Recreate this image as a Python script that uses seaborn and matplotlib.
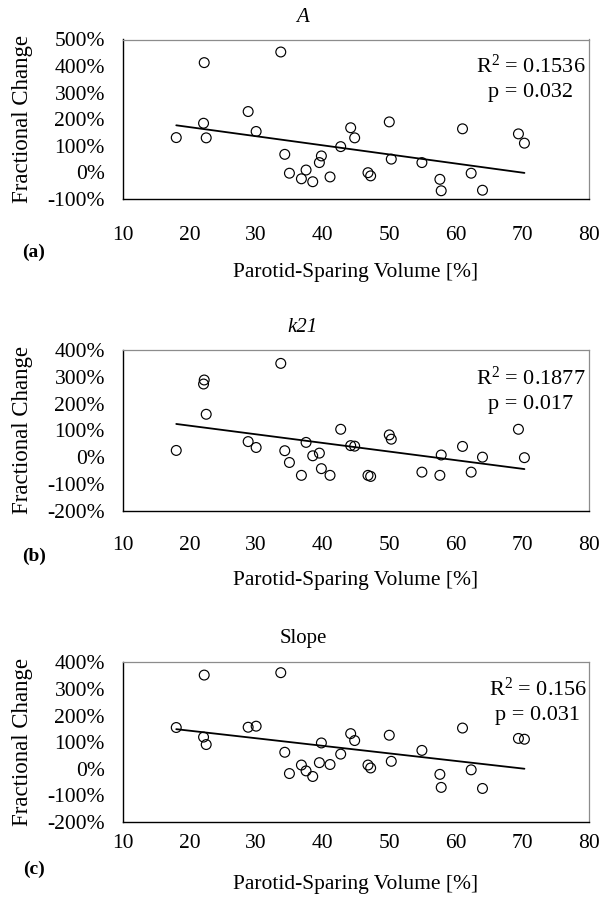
import numpy as np
import pandas as pd
import matplotlib
matplotlib.use('Agg')
import matplotlib.pyplot as plt
import seaborn as sns
from matplotlib.ticker import FuncFormatter

# --- data (percent values) ---
volume = [18.0, 22.1, 22.2, 22.5, 28.8, 30.0, 33.7, 34.3, 35.0, 36.8,
          37.5, 38.5, 39.5, 39.8, 41.1, 42.7, 44.2, 44.8, 46.8, 47.2,
          50.0, 50.3, 54.9, 57.6, 57.8, 61.0, 62.3, 64.0, 69.4, 70.3]

change_A = [131, 185, 413, 130, 229, 154, 453, 68, -3, -24,
            9, -35, 37, 62, -17, 97, 168, 130, -1, -13,
            190, 50, 37, -26, -69, 164, -3, -67, 145, 110]

change_k21 = [25, 273, 288, 160, 58, 36, 350, 24, -20, -68,
              55, 5, 15, -43, -68, 104, 43, 41, -68, -72,
              83, 67, -56, -68, 8, 40, -56, 0, 104, -2]

change_slope = [155, 119, 352, 91, 156, 160, 361, 62, -18, 14,
                -8, -29, 23, 97, 16, 55, 132, 106, 14, 3,
                126, 28, 69, -21, -70, 153, -4, -74, 114, 111]

titles = ['A', 'k21', 'Slope']
title_italic = [True, True, False]
panel_tags = ['(a)', '(b)', '(c)']
r2_text = ['0.1536', '0.1877', '0.156']
p_text = ['0.032', '0.017', '0.031']
y_limits = [(-100, 500), (-200, 400), (-200, 400)]

df = pd.DataFrame({'volume': volume, 'A': change_A,
                   'k21': change_k21, 'Slope': change_slope})

sns.set_theme(style='white')
plt.rcParams['font.family'] = ['Liberation Serif', 'DejaVu Serif']
plt.rcParams['mathtext.fontset'] = 'custom'
plt.rcParams['mathtext.rm'] = 'Liberation Serif'
plt.rcParams['mathtext.it'] = 'Liberation Serif:italic'
plt.rcParams['axes.unicode_minus'] = False
plt.rcParams['text.color'] = 'black'
plt.rcParams['axes.labelcolor'] = 'black'
plt.rcParams['xtick.color'] = 'black'
plt.rcParams['ytick.color'] = 'black'

W, H = 614, 909
fig = plt.figure(figsize=(W / 100, H / 100), dpi=100)

# axes boxes in pixels: (top, bottom)
boxes = [(39.5, 199.0), (350.0, 510.7), (662.3, 822.0)]
ax_left, ax_right = 123.0, 589.0
title_y = [18, 327, 638]
tag_y = [252, 556, 869]
xlabel_y = [273, 581, 885]
xtick_pad = [19.5, 18, 9]
stat_x = [0.875, 0.875, 0.89]
stat_y = [(0.834, 0.665), (0.826, 0.658), (0.833, 0.67)]

for i, col in enumerate(['A', 'k21', 'Slope']):
    top, bot = boxes[i]
    ax = fig.add_axes([ax_left / W, 1 - bot / H,
                       (ax_right - ax_left) / W, (bot - top) / H])
    sns.regplot(data=df, x='volume', y=col, ax=ax, ci=None, color='black',
                scatter_kws={'facecolors': 'none', 's': 50, 'linewidths': 0.85,
                             'alpha': 1},
                line_kws={'color': 'black', 'lw': 1.3})

    ax.set_xlim(10, 80)
    ax.set_ylim(*y_limits[i])
    ax.set_xticks(range(10, 81, 10))
    ax.set_yticks(range(y_limits[i][0], y_limits[i][1] + 1, 100))
    ax.yaxis.set_major_formatter(FuncFormatter(lambda v, _: f'{v:.0f}%'))
    ax.tick_params(axis='both', direction='in', length=5.5, width=0.9,
                   color='black', labelsize=15.5, labelcolor='black')
    ax.tick_params(axis='x', pad=xtick_pad[i])
    ax.tick_params(axis='y', pad=13)

    for side in ['left', 'bottom']:
        ax.spines[side].set_color('black')
        ax.spines[side].set_linewidth(1.0)
    for side in ['top', 'right']:
        ax.spines[side].set_color('#8c8c8c')
        ax.spines[side].set_linewidth(0.9)

    ax.set_xlabel('Parotid-Sparing Volume [%]', fontsize=15.5)
    ax.xaxis.label.set_va('center')
    ax.xaxis.set_label_coords(0.5, (bot - xlabel_y[i]) / (bot - top))
    ax.set_ylabel('Fractional Change', fontsize=16.5)
    ax.yaxis.label.set_va('center')
    ax.yaxis.set_label_coords((23 - ax_left) / (ax_right - ax_left), 0.5)

    ax.text(stat_x[i], stat_y[i][0], r'R$^\mathrm{2}$ = ' + r2_text[i],
            transform=ax.transAxes, ha='center', va='center', fontsize=16)
    ax.text(stat_x[i], stat_y[i][1], 'p = ' + p_text[i],
            transform=ax.transAxes, ha='center', va='center', fontsize=16)

    fig.text(303 / W, 1 - title_y[i] / H, titles[i], ha='center', va='center',
             fontsize=15, style='italic' if title_italic[i] else 'normal')
    fig.text(34 / W, 1 - tag_y[i] / H, panel_tags[i], ha='center', va='center',
             fontsize=14, fontweight='bold')

fig.savefig('out.png', dpi=100)
plt.close(fig)
